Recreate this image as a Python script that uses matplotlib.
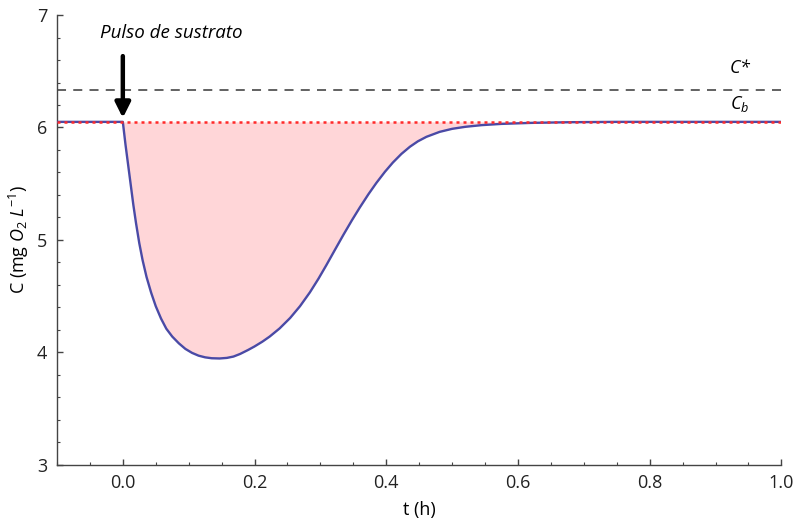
import matplotlib
matplotlib.use("Agg")
import matplotlib.pyplot as plt
import numpy as np

plt.rcParams['font.family'] = ['Open Sans', 'DejaVu Sans']
plt.rcParams['mathtext.fontset'] = 'custom'
plt.rcParams['mathtext.rm'] = 'Open Sans'
plt.rcParams['mathtext.it'] = 'Open Sans:italic'

# Dissolved-oxygen response to a substrate pulse
t_h = [-0.1, 0.0, 0.004, 0.008, 0.012, 0.016, 0.020, 0.025, 0.030, 0.036,
       0.043, 0.050, 0.058, 0.066, 0.075, 0.085, 0.095, 0.105, 0.115, 0.125,
       0.135, 0.147, 0.158, 0.168, 0.178, 0.190, 0.200, 0.212, 0.223, 0.238,
       0.254, 0.269, 0.284, 0.297, 0.309, 0.322, 0.335, 0.348, 0.360, 0.373,
       0.385, 0.398, 0.410, 0.423, 0.436, 0.448, 0.461, 0.481, 0.500, 0.520,
       0.545, 0.575, 0.62, 0.68, 0.75, 1.0]
c_mg = [6.05, 6.05, 5.85, 5.67, 5.49, 5.31, 5.15, 4.97, 4.82, 4.67,
        4.53, 4.41, 4.30, 4.21, 4.14, 4.08, 4.03, 3.995, 3.97, 3.955,
        3.947, 3.945, 3.95, 3.962, 3.985, 4.02, 4.052, 4.095, 4.14, 4.212,
        4.305, 4.41, 4.533, 4.654, 4.775, 4.911, 5.046, 5.176, 5.29, 5.407,
        5.507, 5.606, 5.688, 5.765, 5.829, 5.877, 5.917, 5.961, 5.988, 6.006,
        6.021, 6.032, 6.041, 6.047, 6.05, 6.05]
c_base = 6.05   # C_b
c_sat = 6.33    # C*

t = np.array(t_h)
c = np.array(c_mg)

fig = plt.figure(figsize=(7.99, 5.22), dpi=100)
ax = fig.add_axes([0.0713, 0.1098, 0.9067, 0.8613])

after = t >= 0
ax.fill_between(t[after], c[after], c_base, color='#ffd6d8', lw=0, zorder=1)
ax.plot(t, c, color='#4a4aa6', lw=1.7, zorder=3, solid_joinstyle='round')
ax.axhline(c_base, color='#ff2a2a', lw=1.8, ls=(0, (1.2, 1.6)), zorder=4)
ax.axhline(c_sat, color='#555555', lw=1.3, ls=(0, (5, 4)), zorder=2)

ax.annotate('', xy=(0.0, 6.085), xytext=(0.0, 6.635),
            arrowprops=dict(arrowstyle='-|>,head_width=0.45,head_length=0.9',
                            color='black', lw=3.2, shrinkA=0, shrinkB=0),
            zorder=5)
ax.text(0.073, 6.84, 'Pulso de sustrato', style='italic', fontsize=13.5,
        ha='center', va='center')
ax.text(0.937, 6.53, r'$C$*', fontsize=13, ha='center', va='center',
        style='italic')
ax.text(0.937, 6.21, r'$C_b$', fontsize=13, ha='center', va='center')

ax.set_xlim(-0.1, 1.0)
ax.set_ylim(3, 7)
ax.set_xticks([0.0, 0.2, 0.4, 0.6, 0.8, 1.0])
ax.set_xticklabels(['0.0', '0.2', '0.4', '0.6', '0.8', '1.0'])
ax.set_xticks(np.arange(-0.1, 1.0001, 0.05), minor=True)
ax.set_yticks([3, 4, 5, 6, 7])
ax.set_yticks(np.arange(3, 7.001, 0.2), minor=True)

for s in ('top', 'right'):
    ax.spines[s].set_visible(False)
for s in ('left', 'bottom'):
    ax.spines[s].set_color('#444444')
    ax.spines[s].set_linewidth(1.0)

ax.tick_params(which='both', direction='in', color='#444444', labelsize=13,
               labelcolor='#222222')
ax.tick_params(which='major', length=4, width=1.0, pad=7)
ax.tick_params(which='minor', length=2.5, width=0.8)

ax.set_xlabel('t (h)', fontsize=13, labelpad=6)
ax.set_ylabel(r'C (mg $O_2$ $L^{-1}$)', fontsize=13, labelpad=4)

fig.savefig('out.png', dpi=100)
